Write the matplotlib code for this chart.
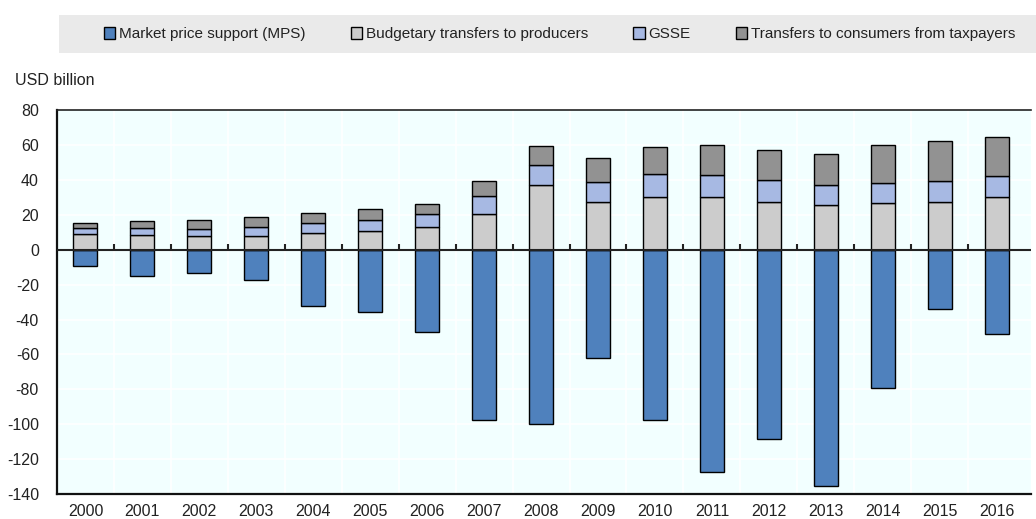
import matplotlib.pyplot as plt
import numpy as np
from matplotlib.patches import Rectangle

plt.rcParams['font.family'] = ['Liberation Sans', 'DejaVu Sans']
plt.rcParams['axes.unicode_minus'] = False

years = [str(y) for y in range(2000, 2017)]
# USD billion
mps = np.array([-9.4, -15.1, -13.6, -17.4, -32.1, -35.8, -47.2, -97.3, -100.1,
                -61.9, -97.8, -127.1, -108.7, -135.3, -79.5, -34.2, -48.5])
budget = np.array([8.9, 8.4, 7.8, 8.0, 9.3, 10.5, 13.0, 20.2, 36.8,
                   27.5, 30.0, 30.0, 27.5, 25.7, 26.5, 27.1, 30.0])
gsse = np.array([3.3, 3.8, 3.8, 4.8, 5.8, 6.5, 7.2, 10.5, 11.9,
                 11.1, 13.2, 12.8, 12.6, 11.5, 11.7, 12.2, 12.3])
consumers = np.array([3.2, 4.0, 5.4, 5.7, 6.0, 6.1, 6.1, 8.6, 10.6,
                      14.1, 15.4, 17.0, 17.2, 17.6, 21.6, 23.1, 22.4])

labels = ['Market price support (MPS)', 'Budgetary transfers to producers',
          'GSSE', 'Transfers to consumers from taxpayers']
colors = ['#4F81BD', '#CCCCCC', '#A7B9E3', '#929292']

fig = plt.figure(figsize=(10.36, 5.19), dpi=100)
ax = fig.add_axes([0.055, 0.048, 0.94, 0.74])
ax.set_facecolor('#F2FFFF')

x = np.arange(len(years))
w = 0.42
kw = dict(width=w, edgecolor='black', linewidth=1.0, zorder=3)
ax.bar(x, mps, color=colors[0], label=labels[0], **kw)
ax.bar(x, budget, color=colors[1], label=labels[1], **kw)
ax.bar(x, gsse, bottom=budget, color=colors[2], label=labels[2], **kw)
ax.bar(x, consumers, bottom=budget + gsse, color=colors[3], label=labels[3], **kw)

ax.set_xlim(-0.5, len(years) - 0.4)
ax.set_ylim(-140, 80)
ax.set_yticks(np.arange(-140, 81, 20))
ax.set_xticks(x)
ax.set_xticklabels(years)
ax.tick_params(axis='both', length=0, labelsize=11.5, colors='#222222')
ax.tick_params(axis='y', pad=13)
ax.tick_params(axis='x', pad=7)

# white grid
for yv in np.arange(-120, 80, 20):
    ax.axhline(yv, color='white', lw=1.2, zorder=1)
for xv in x[:-1] + 0.5:
    ax.axvline(xv, color='white', lw=1.2, zorder=1)

ax.axhline(0, color='#222222', lw=1.5, zorder=4)
ax.vlines(x[:-1] + 0.5, 0, 3, color='#222222', lw=1.5, zorder=4)

for s in ['left', 'bottom']:
    ax.spines[s].set_linewidth(1.6)
    ax.spines[s].set_color('#111111')
ax.spines['top'].set_linewidth(1.2)
ax.spines['top'].set_color('#222222')
ax.spines['right'].set_visible(False)

fig.text(0.014, 0.845, 'USD billion', fontsize=11.5, color='#222222', va='center')

# legend band
fig.patches.append(Rectangle((0.057, 0.898), 0.943, 0.073, transform=fig.transFigure,
                             facecolor='#EAEAEA', edgecolor='none', zorder=0))
h, l = ax.get_legend_handles_labels()
leg = fig.legend(h, l, loc='center', bbox_to_anchor=(0.54, 0.934), ncol=4,
                 frameon=False, fontsize=11, handlelength=0.75, handleheight=0.75,
                 handletextpad=0.25, columnspacing=2.95, borderpad=0)
for t in leg.get_texts():
    t.set_color('#222222')

fig.savefig('out.png', dpi=100)
